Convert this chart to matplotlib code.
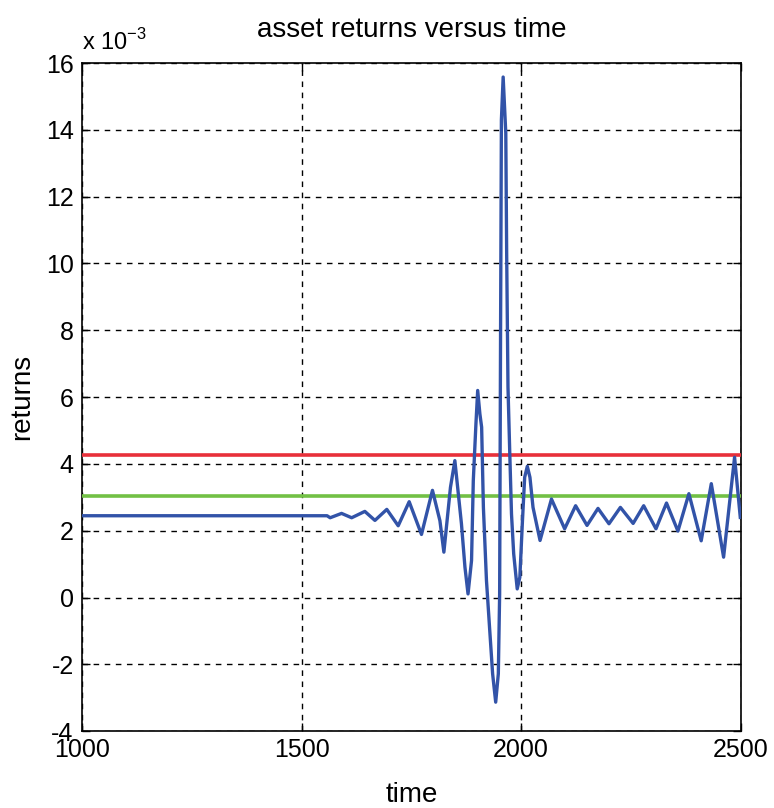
import numpy as np
import matplotlib.pyplot as plt
from matplotlib.ticker import FuncFormatter

# sampled points of the return series (time step, return in units of 1e-3)
time = [1000, 1558, 1565, 1591, 1614, 1644, 1667, 1694, 1720, 1745, 1773,
        1798, 1815, 1824, 1839, 1849, 1864, 1872, 1879, 1887, 1891, 1897,
        1901, 1906, 1910, 1914, 1921, 1929, 1935, 1942, 1948, 1951, 1953,
        1955, 1959, 1965, 1967, 1970, 1974, 1978, 1983, 1991, 1997, 2003,
        2008, 2014, 2020, 2027, 2043, 2069, 2099, 2124, 2150, 2175, 2200,
        2226, 2255, 2279, 2307, 2331, 2357, 2382, 2410, 2433, 2461, 2486,
        2499]
returns_e3 = [2.45, 2.45, 2.39, 2.52, 2.39, 2.58, 2.31, 2.64, 2.15, 2.87, 1.89,
              3.21, 2.30, 1.36, 3.30, 4.10, 2.21, 0.91, 0.11, 1.11, 3.50, 5.20,
              6.20, 5.50, 5.10, 2.70, 0.51, -1.09, -2.28, -3.13, -2.28, 0.11, 7.60,
              14.3, 15.58, 13.9, 10.3, 6.30, 4.35, 2.50, 1.31, 0.26, 0.61, 2.31,
              3.60, 3.93, 3.60, 2.70, 1.71, 2.95, 2.06, 2.75, 2.16, 2.67, 2.21,
              2.70, 2.22, 2.75, 2.06, 2.83, 1.99, 3.11, 1.70, 3.41, 1.21, 4.20,
              2.40]
upper_level_e3 = 4.27
mean_level_e3 = 3.05

x_ticks = [1000, 1500, 2000, 2500]
y_ticks_e3 = [-4, -2, 0, 2, 4, 6, 8, 10, 12, 14, 16]

plt.rcParams['font.family'] = ['Liberation Sans', 'DejaVu Sans']

fig = plt.figure(figsize=(7.74, 8.08), dpi=100)
ax = fig.add_axes([0.106, 0.095, 0.851, 0.827])

t = np.array(time)
r = np.array(returns_e3) * 1e-3

ax.plot([1000, 2500], [upper_level_e3 * 1e-3] * 2, color='#e8303a', lw=2.6, zorder=3)
ax.plot([1000, 2500], [mean_level_e3 * 1e-3] * 2, color='#72c045', lw=2.6, zorder=3)
ax.plot(t, r, color='#3253a8', lw=2.4, zorder=4, solid_joinstyle='round')

ax.set_xlim(1000, 2500)
ax.set_ylim(-4e-3, 16e-3)
ax.set_xticks(x_ticks)
ax.set_yticks([v * 1e-3 for v in y_ticks_e3])
ax.yaxis.set_major_formatter(FuncFormatter(lambda v, p: f"{v * 1e3:.0f}"))
ax.tick_params(direction='in', length=6, width=1, labelsize=18, top=True, right=True)
ax.tick_params(axis='x', pad=5)
ax.tick_params(axis='y', pad=6)
ax.grid(True, color='black', linestyle=(0, (4, 4)), linewidth=1)
for s in ax.spines.values():
    s.set_linewidth(1.2)

ax.set_title('asset returns versus time', fontsize=20, pad=19)
ax.set_xlabel('time', fontsize=20, labelpad=14)
ax.set_ylabel('returns', fontsize=20, labelpad=8)
ax.text(0.0, 1.012, r'x 10$^{\mathregular{-3}}$', transform=ax.transAxes,
        fontsize=17, ha='left', va='bottom')

fig.savefig('out.png', dpi=100)
